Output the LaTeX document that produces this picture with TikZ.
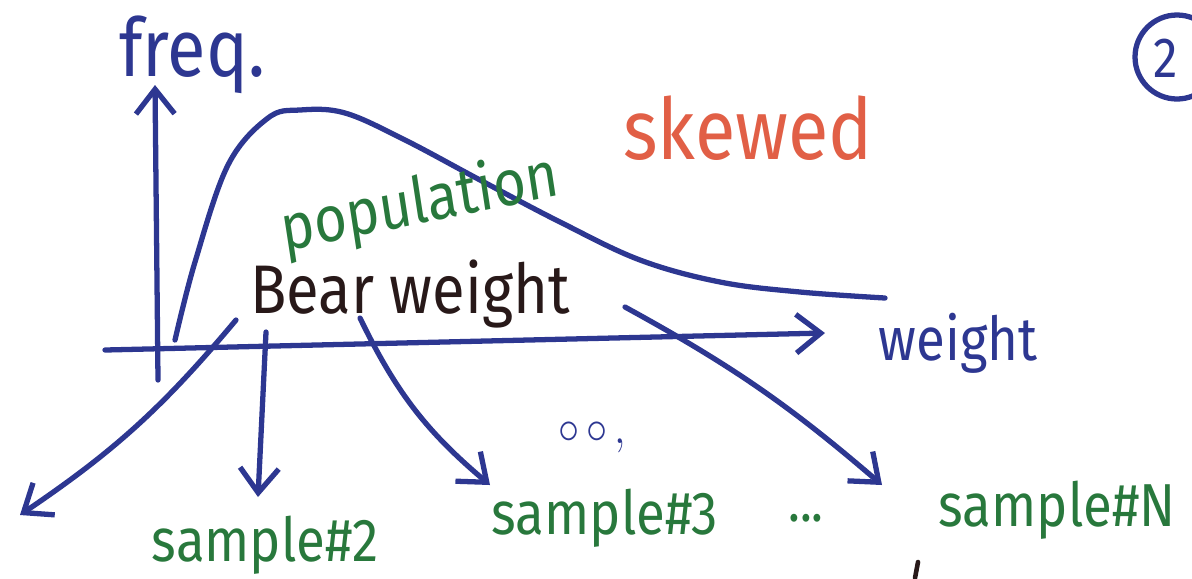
\documentclass[tikz,border=0pt]{standalone}
\usepackage{fontspec}
\setmainfont{Fira Sans}
\usetikzlibrary{arrows.meta}
\definecolor{pen}{RGB}{45,55,145}
\definecolor{grn}{RGB}{40,120,60}
\definecolor{red}{RGB}{225,95,70}
\definecolor{ink}{RGB}{40,25,25}
\tikzset{
  stroke/.style={pen, line width=1.5pt, line cap=round, line join=round},
  arr/.style={stroke, -{Straight Barb[length=7pt,width=11pt,line width=1.5pt]}},
  lbl/.style={inner sep=0pt, yscale=1.15},
}
\begin{document}
\begin{tikzpicture}[x=0.01cm,y=-0.01cm]
\useasboundingbox (0,0) rectangle (1192,578);
% axes
\coordinate (yb) at (158,380);
\coordinate (yt) at (155,85);
\coordinate (xl) at (105,350);
\coordinate (xr) at (825,333);
\draw[arr] (yb) -- (yt);
\draw[arr] (xl) -- (xr);
% distribution curve
\draw[stroke] plot[smooth, tension=0.6] coordinates {(175,340) (195,262) (228,165) (268,118) (300,110) (345,113) (405,140) (480,180) (560,222) (640,260) (720,282) (800,292) (885,298)};
% labels
\node[lbl, pen, font=\fontsize{20}{22}\selectfont] (freq) at (192,55) {freq.};
\node[lbl, pen, font=\fontsize{15}{17}\selectfont] (wt) at (958,343) {weight};
\node[lbl, red, font=\fontsize{21}{23}\selectfont] (skew) at (748,128) {skewed};
\node[lbl, grn, rotate=10, font=\fontsize{16}{18}\selectfont] (pop) at (420,205) {population};
\node[lbl, ink, font=\fontsize{17}{19}\selectfont] (bear) at (410,294) {Bear weight};
\node[lbl, pen, font=\fontsize{14}{16}\selectfont] (two) at (1166,58) {2};
\draw[stroke] (1177,57) circle (42);
% samples
\node[lbl, grn, font=\fontsize{15}{17}\selectfont] (s2) at (265,545) {sample\#2};
\node[lbl, grn, font=\fontsize{15}{17}\selectfont] (s3) at (605,518) {sample\#3};
\node[lbl, grn, font=\fontsize{15}{17}\selectfont] (sN) at (1057,510) {sample\#N};
\node[lbl, grn, font=\fontsize{14}{16}\selectfont] (dots) at (806,518) {...};
\node[lbl, pen, font=\fontsize{13}{15}\selectfont] (odots) at (592,437) {$\circ\,\circ\,,$};
% stray mark at bottom edge
\coordinate (m1) at (918,562);
\coordinate (m2) at (915,578);
\draw[ink, line width=1.3pt, line cap=round] (m1) -- (m2);
% arrows from population to samples
\coordinate (a1) at (236,320);
\coordinate (e1) at (20,515);
\coordinate (a2) at (266,332);
\coordinate (e2) at (258,497);
\coordinate (a3) at (360,318);
\coordinate (e3) at (490,485);
\coordinate (a4) at (625,307);
\coordinate (e4) at (882,485);
\draw[arr] (a1) to[bend left=8] (e1);
\draw[arr] (a2) -- (e2);
\draw[arr] (a3) to[bend right=12] (e3);
\draw[arr] (a4) to[bend left=6] (e4);
\end{tikzpicture}
\end{document}
